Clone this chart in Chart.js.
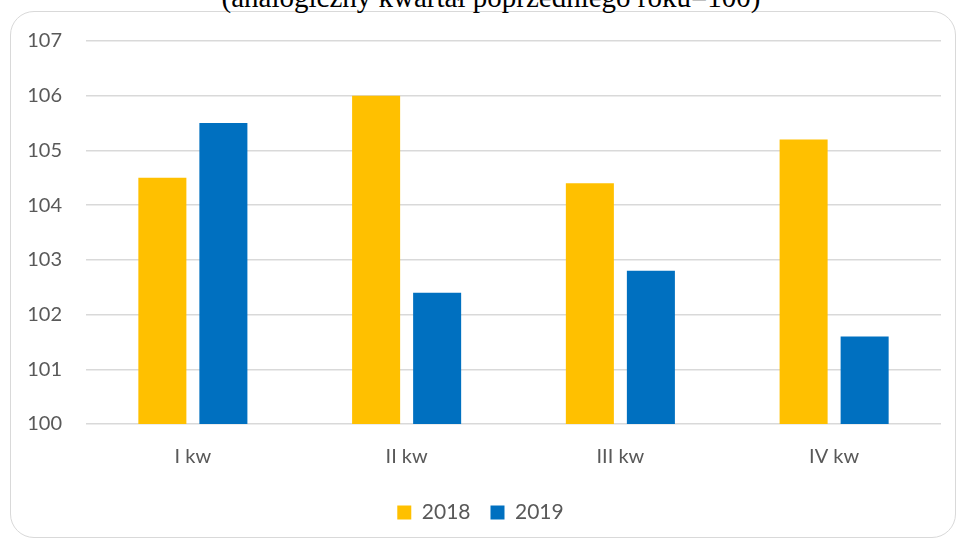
<!DOCTYPE html>
<html>
<head>
<meta charset="utf-8">
<script src="https://cdn.jsdelivr.net/npm/chart.js@4"></script>
<style>
  body { margin: 0; background: #fff; overflow: hidden; }
  #frame {
    position: absolute; left: 10px; top: 11px; width: 946px; height: 527px;
    border: 1px solid #d9d9d9; border-radius: 24px; box-sizing: border-box;
  }
  #title {
    position: absolute; left: 0; width: 982px; top: -19px; text-align: center;
    font-family: "Liberation Serif", serif; font-size: 29px; color: #000;
    white-space: nowrap;
  }
  #wrap { position: absolute; left: 0; top: 0; width: 957px; height: 538px; }
</style>
</head>
<body>
<div id="frame"></div>
<div id="title">(analogiczny kwartał poprzedniego roku=100)</div>
<div id="wrap"><canvas id="myChart"></canvas></div>
<script>
const categories = ["I kw", "II kw", "III kw", "IV kw"];
const values2018 = [104.5, 106.0, 104.4, 105.2];
const values2019 = [105.5, 102.4, 102.8, 101.6];
const yMin = 100;
const yMax = 107;

const ctx = document.getElementById("myChart").getContext("2d");

const myChart = new Chart(ctx, {
  type: "bar",
  data: {
    labels: categories,
    datasets: [
      { label: "2018", data: values2018, backgroundColor: "#FFC000" },
      { label: "2019", data: values2019, backgroundColor: "#0070C0" }
    ]
  },
  options: {
    responsive: true,
    maintainAspectRatio: false,
    animation: false,
    datasets: {
      bar: { categoryPercentage: 0.571, barPercentage: 0.787 }
    },
    layout: { padding: { left: 20, right: 16, top: 41, bottom: 5 } },
    plugins: {
      tooltip: { enabled: false },
      legend: {
        position: "bottom",
        labels: {
          boxWidth: 14, boxHeight: 14, padding: 20,
          color: "#595959",
          font: { family: "Lato", size: 21 }
        }
      }
    },
    scales: {
      x: {
        grid: { display: false },
        border: { display: false },
        ticks: { color: "#595959", font: { family: "Lato", size: 20 }, padding: 13 }
      },
      y: {
        min: yMin,
        max: yMax,
        ticks: { stepSize: 1, color: "#595959", font: { family: "Lato", size: 20 }, padding: 24 },
        grid: { color: "#d9d9d9", lineWidth: 1.5, drawTicks: false },
        border: { display: false },
        afterFit: function (scale) { scale.width = 66; }
      }
    }
  }
});
</script>
</body>
</html>
